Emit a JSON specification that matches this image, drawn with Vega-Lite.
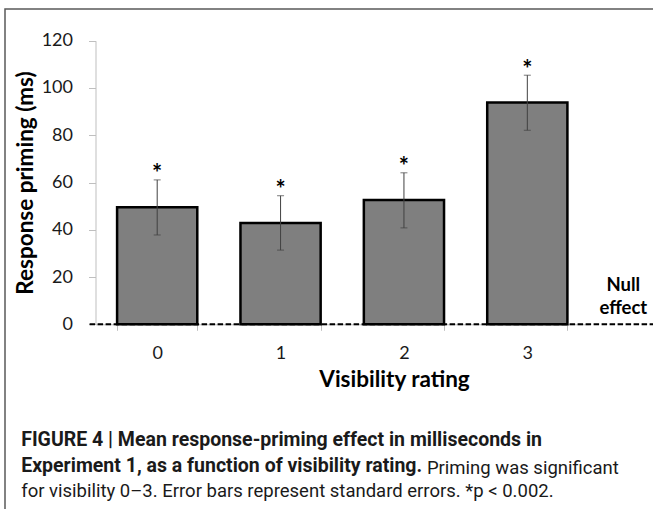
{
  "$schema": "https://vega.github.io/schema/vega-lite/v6.json",
  "width": 660,
  "height": 510,
  "autosize": {"type": "none"},
  "padding": {"left": 5, "top": 9, "right": 0, "bottom": 0},
  "background": "white",
  "config": {
    "view": {"stroke": "#595959", "strokeWidth": 1.5},
    "font": "Lato",
    "axisY": {
      "offset": -90.5,
      "tickCount": 7,
      "grid": false,
      "domainColor": "#bfbfbf",
      "tickColor": "#bfbfbf",
      "tickSize": 7,
      "labelPadding": 16,
      "labelFont": "Lato",
      "labelFontSize": 18,
      "labelColor": "#1a1a1a",
      "titleFont": "Lato",
      "titleFontSize": 22.5,
      "titleFontWeight": "bold",
      "titleColor": "#000000",
      "titlePadding": 4
    }
  },
  "data": {"values": [
    {"rating": "0", "mean": 49.5, "lo": 37.8, "hi": 61.1},
    {"rating": "1", "mean": 42.9, "lo": 31.4, "hi": 54.4},
    {"rating": "2", "mean": 52.6, "lo": 40.8, "hi": 64.1},
    {"rating": "3", "mean": 93.8, "lo": 82.1, "hi": 105.4}
  ]},
  "title": {
    "text": ["FIGURE 4 | Mean response-priming effect in milliseconds in", "Experiment 1, as a function of visibility rating."],
    "subtitle": ["\u200b\u2003\u2003\u2003\u2003\u2003\u2003\u2003\u2003\u2003\u2003\u2003\u2003\u2003\u2003\u2003\u2003\u2003\u2003\u2003\u2003\u2003\u2002Priming was significant", "for visibility 0\u20133. Error bars represent standard errors. *p < 0.002."],
    "orient": "bottom",
    "anchor": "start",
    "frame": "group",
    "offset": -88,
    "dx": 16.2,
    "font": "Roboto",
    "fontSize": 19.5,
    "fontWeight": "bold",
    "lineHeight": 25.5,
    "color": "#1a1a1a",
    "subtitleFont": "Roboto",
    "subtitleFontSize": 18.5,
    "subtitleFontWeight": "normal",
    "subtitleLineHeight": 23.5,
    "subtitlePadding": -17.5,
    "subtitleColor": "#1a1a1a"
  },
  "layer": [
    {
      "encoding": {
        "x": {
          "field": "rating",
          "type": "ordinal",
          "scale": {"type": "band", "domain": ["0", "1", "2", "3"], "range": [90.5, 584], "paddingInner": 0.35, "paddingOuter": 0.175},
          "axis": {
            "title": "Visibility rating",
            "offset": -194.7,
            "tickBand": "extent",
            "grid": false,
            "domainColor": "#bfbfbf",
            "tickColor": "#bfbfbf",
            "tickSize": 6,
            "labelPadding": 14,
            "labelFont": "Lato",
            "labelFontSize": 18,
            "labelAngle": 0,
            "labelColor": "#1a1a1a",
            "titleFont": "Lato",
            "titleFontSize": 22.5,
            "titleFontWeight": "bold",
            "titleColor": "#000000",
            "titleX": 389,
            "titleY": 44.5,
            "titleBaseline": "top",
            "titleAlign": "center"
          }
        }
      },
      "layer": [
        {
          "mark": {"type": "bar", "fill": "#7f7f7f", "stroke": "#000000", "strokeWidth": 2.5},
          "encoding": {
            "y": {
              "field": "mean",
              "type": "quantitative",
              "scale": {"domain": [0, 120], "range": [315.3, 31.7], "nice": false, "zero": true},
              "axis": {"title": "Response priming (ms)"}
            }
          }
        },
        {
          "mark": {"type": "errorbar", "ticks": {"size": 7, "color": "#404040", "strokeWidth": 1}, "rule": {"color": "#404040", "strokeWidth": 1}},
          "encoding": {
            "y": {"field": "lo", "type": "quantitative", "scale": {"domain": [0, 120], "range": [315.3, 31.7], "nice": false, "zero": true}, "axis": {"title": "Response priming (ms)"}},
            "y2": {"field": "hi"}
          }
        },
        {
          "mark": {"type": "text", "text": "*", "font": "Lato", "fontSize": 24, "fontWeight": "bold", "baseline": "alphabetic", "dy": 2.5, "color": "#000000"},
          "encoding": {
            "y": {"field": "hi", "type": "quantitative", "scale": {"domain": [0, 120], "range": [315.3, 31.7], "nice": false, "zero": true}, "axis": {"title": "Response priming (ms)"}}
          }
        },
        {
          "data": {"values": [{"label": "Null effect"}]},
          "mark": {"type": "text", "font": "Lato", "fontSize": 18.5, "fontWeight": "bold", "lineHeight": 23, "lineBreak": " ", "align": "center", "baseline": "middle", "dx": 96, "color": "#000000"},
          "encoding": {
            "x": {"datum": "3", "type": "ordinal"},
            "y": {"datum": 16.6, "type": "quantitative", "scale": {"domain": [0, 120], "range": [315.3, 31.7], "nice": false, "zero": true}, "axis": {"title": "Response priming (ms)"}},
            "text": {"field": "label"}
          }
        }
      ]
    },
    {
      "data": {"values": [{"kind": "null effect"}]},
      "mark": {"type": "rule", "strokeDash": [5.5, 2.5], "strokeWidth": 2, "color": "#000000"},
      "encoding": {
        "x": {"datum": 0, "type": "quantitative", "scale": {"domain": [0, 1], "range": [84.6, 660]}, "axis": null},
        "x2": {"datum": 1},
        "y": {"datum": 0, "type": "quantitative", "scale": {"domain": [0, 120], "range": [315.3, 31.7], "nice": false, "zero": true}, "axis": {"title": "Response priming (ms)"}}
      }
    }
  ],
  "resolve": {"scale": {"x": "independent"}}
}
